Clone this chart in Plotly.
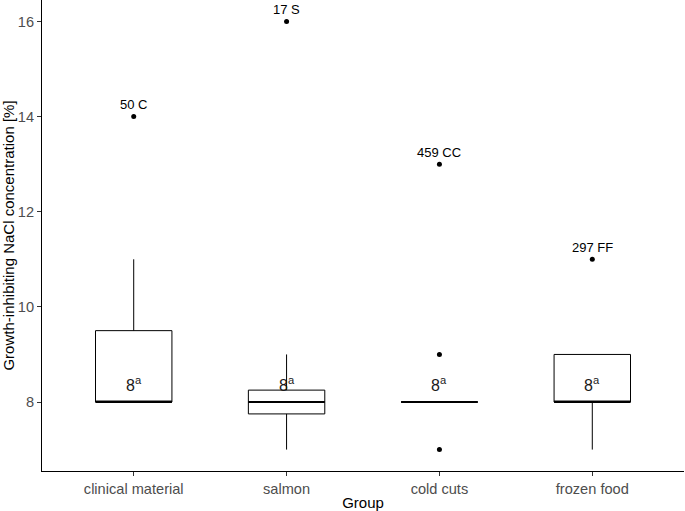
import plotly.graph_objects as go

# ---- data ----
groups = ["clinical material", "salmon", "cold cuts", "frozen food"]
q1 = [8, 7.75, 8, 8]
median = [8, 8, 8, 8]
q3 = [9.5, 8.25, 8, 9]
lower_whisker = [8, 7, 8, 7]
upper_whisker = [11, 9, 8, 9]

outlier_group = ["clinical material", "salmon", "cold cuts", "cold cuts", "cold cuts", "frozen food"]
outlier_value = [14, 16, 13, 9, 7, 11]
outlier_label = ["50 C", "17 S", "459 CC", "", "", "297 FF"]

median_label = ["8<sup>a</sup>", "8<sup>a</sup>", "8<sup>a</sup>", "8<sup>a</sup>"]

ytick_vals = [8, 10, 12, 14, 16]

# ---- figure ----
pos = list(range(len(groups)))
gidx = {g: i for i, g in enumerate(groups)}
box_w = 0.5
FONT = "Liberation Sans, Arial"

fig = go.Figure()
fig.add_trace(go.Box(
    x=pos, q1=q1, median=median, q3=q3,
    lowerfence=lower_whisker, upperfence=upper_whisker,
    width=box_w, boxpoints=False,
    line=dict(color="black", width=1), fillcolor="white",
    whiskerwidth=0, hoverinfo="skip", showlegend=False,
))

# thick median lines
mx, my = [], []
for i, m in zip(pos, median):
    mx += [i - box_w / 2, i + box_w / 2, None]
    my += [m, m, None]
fig.add_trace(go.Scatter(x=mx, y=my, mode="lines",
                         line=dict(color="black", width=2.2),
                         hoverinfo="skip", showlegend=False))

# outliers
fig.add_trace(go.Scatter(
    x=[gidx[g] for g in outlier_group], y=outlier_value, mode="markers",
    marker=dict(color="black", size=5), hoverinfo="skip", showlegend=False))

for g, v, lab in zip(outlier_group, outlier_value, outlier_label):
    if lab:
        fig.add_annotation(x=gidx[g], y=v, text=lab, showarrow=False,
                           yanchor="middle", yshift=12,
                           font=dict(family=FONT, size=13, color="black"))

for i, m, lab in zip(pos, median, median_label):
    fig.add_annotation(x=i, y=m, text=lab, showarrow=False,
                       yanchor="middle", yshift=18,
                       font=dict(family=FONT, size=16, color="#1a1a1a"))

axis_common = dict(
    showline=True, linecolor="black", linewidth=1,
    ticks="outside", ticklen=4, tickcolor="#333333", tickwidth=1,
    showgrid=False, zeroline=False, automargin=False,
    tickfont=dict(family=FONT, size=14.6, color="#4d4d4d"),
    title_font=dict(family=FONT, size=15, color="black"),
)

fig.update_layout(
    width=685, height=511,
    margin=dict(l=42, r=1, t=0, b=40),
    plot_bgcolor="white", paper_bgcolor="white",
    xaxis=dict(range=[-0.6, 3.6], tickmode="array", tickvals=pos, ticktext=groups,
               title=dict(text="Group", standoff=2), **axis_common),
    yaxis=dict(range=[6.55, 16.45], tickmode="array", tickvals=ytick_vals,
               title=dict(text="Growth-inhibiting NaCl concentration [%]", standoff=4),
               **axis_common),
)

fig.write_html("out.html",
               config={"displayModeBar": False},
               post_script="document.body.style.margin='0';document.body.style.overflow='hidden';")
